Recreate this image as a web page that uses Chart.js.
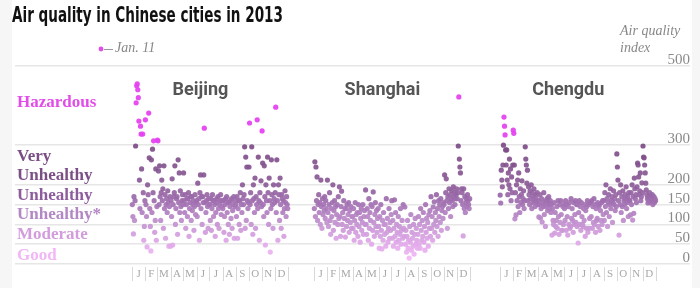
<!DOCTYPE html>
<html>
<head>
<meta charset="utf-8">
<script src="https://cdn.jsdelivr.net/npm/chart.js@4"></script>
<style>
  html, body { margin: 0; padding: 0; background: #f6f6f6; }
  #wrap { position: relative; width: 700px; height: 288px; }
  #paper { position: absolute; left: 12px; top: 0; width: 680px; height: 288px; background: #fff; }
  #chart { position: absolute; left: 0; top: 0; }
  .title { position: absolute; left: 12px; top: 3px; font: bold 20.5px "DejaVu Sans Condensed", sans-serif; color: #111;
           white-space: nowrap; transform: scaleX(0.735); transform-origin: left top; }
  .note { position: absolute; font: italic 14px "Liberation Serif", serif; color: #888; }
</style>
</head>
<body>
<div id="wrap">
  <div id="paper"></div>
  <canvas id="chart" width="700" height="288"></canvas>
  <div class="title">Air quality in Chinese cities in 2013</div>
  <div class="note" style="left:115px; top:40px;">Jan. 11</div>
  <div class="note" style="left:620px; top:23px;">Air quality</div>
  <div class="note" style="left:620px; top:40px;">index</div>
</div>
<script>
// Data, one row per month

const cities = ['Beijing', 'Shanghai', 'Chengdu'];

const beijing = [
  150, 120, 76, 170, 110, 160, 298, 407, 450, 455, 440, 420, 361, 212, 140, 348, 328, 240, 130, 328, 180, 60, 95, 160,
  364, 150, 120, 43, 200, 175, 381, 268, 140, 95, 33, 263, 130, 290, 180, 311, 160, 80, 110, 240, 60, 145,
  313, 311, 235, 150, 248, 170, 110, 180, 212, 160, 190, 90, 248, 140, 175, 65, 150, 165, 130, 185, 155, 45, 145, 170,
  45, 160, 120, 215, 48, 150, 170, 180, 248, 100, 140, 165, 170, 75, 263, 155, 230, 130, 185, 145, 110, 160, 175, 150,
  230, 160, 130, 175, 90, 150, 165, 120, 165, 180, 70, 140, 155, 170, 110, 170, 135, 150, 160, 85, 145, 175, 125, 155,
  160, 120, 204, 150, 165, 60, 180, 225, 140, 170, 100, 170, 155, 225, 343, 155, 80, 130, 160, 175, 145, 90, 165, 150,
  150, 110, 165, 85, 140, 175, 160, 120, 160, 150, 70, 130, 155, 165, 100, 170, 140, 90, 150, 160, 175, 125, 145, 160,
  140, 160, 80, 120, 150, 165, 60, 170, 130, 155, 100, 155, 75, 145, 160, 115, 165, 90, 135, 150, 170, 65, 145, 160,
  150, 120, 170, 65, 140, 160, 100, 160, 180, 85, 150, 130, 200, 165, 150, 175, 296, 90, 270, 110, 245, 160, 140, 155,
  245, 356, 150, 180, 100, 296, 160, 75, 200, 165, 130, 217, 90, 170, 150, 364, 140, 270, 160, 60, 180, 155, 210, 145,
  336, 255, 150, 120, 248, 170, 48, 200, 160, 130, 270, 180, 100, 217, 160, 30, 140, 263, 175, 150, 90, 200, 165, 155,
  180, 396, 130, 263, 160, 60, 200, 175, 110, 217, 150, 90, 175, 165, 130, 160, 70, 140, 185, 155, 120, 170, 150, 140
];

const shanghai = [
  140, 258, 120, 245, 160, 220, 110, 150, 175, 130, 155, 100, 212, 145, 90, 165, 125, 150, 135, 170, 115, 160, 140, 105,
  212, 130, 95, 150, 180, 110, 75, 140, 120, 155, 200, 85, 135, 160, 105, 145, 65, 125, 150, 100, 170, 115,
  195, 120, 70, 145, 184, 100, 130, 85, 160, 115, 140, 68, 140, 95, 150, 110, 125, 155, 80, 135, 105, 145, 90, 120,
  120, 90, 140, 60, 110, 155, 80, 125, 100, 130, 70, 150, 95, 130, 55, 115, 140, 85, 105, 150, 75, 120, 135, 100,
  187, 100, 75, 140, 120, 60, 165, 90, 130, 110, 150, 50, 145, 85, 182, 105, 70, 125, 155, 95, 135, 80, 115, 140,
  95, 40, 120, 70, 150, 85, 38, 110, 60, 130, 100, 75, 100, 45, 165, 80, 115, 55, 90, 140, 65, 105, 85, 125,
  160, 65, 110, 45, 90, 162, 70, 130, 55, 100, 80, 40, 120, 60, 95, 75, 140, 50, 85, 110, 65, 150, 90, 70,
  144, 50, 85, 30, 70, 110, 40, 60, 15, 95, 55, 125, 35, 80, 65, 45, 100, 25, 75, 115, 50, 90, 60, 40,
  75, 120, 50, 100, 40, 140, 85, 60, 110, 70, 130, 55, 95, 35, 150, 80, 115, 65, 105, 45, 125, 90, 135, 70,
  170, 90, 120, 60, 144, 100, 157, 80, 130, 110, 175, 95, 140, 70, 160, 120, 150, 105, 165, 85, 135, 145, 115, 155,
  150, 225, 130, 180, 215, 160, 90, 170, 140, 190, 155, 175, 120, 165, 185, 160, 145, 195, 170, 180, 150, 165, 175, 190,
  165, 180, 298, 422, 265, 245, 230, 160, 190, 180, 150, 71, 190, 140, 170, 130, 155, 165, 145, 175, 160, 150, 140, 165
];

const chengdu = [
  174, 154, 237, 212, 195, 250, 300, 371, 348, 326, 288, 250, 288, 212, 175, 230, 200, 265, 190, 240, 160, 220, 180, 250,
  338, 330, 250, 114, 180, 124, 200, 160, 212, 145, 230, 170, 130, 190, 155, 175, 210, 150, 165, 185, 140, 160,
  296, 265, 250, 204, 237, 160, 195, 175, 150, 185, 165, 200, 140, 180, 155, 170, 190, 160, 145, 175, 165, 155, 180, 150,
  160, 119, 150, 175, 116, 140, 165, 106, 155, 145, 180, 125, 150, 95, 160, 145, 165, 135, 155, 170, 150, 140, 160, 130,
  150, 73, 140, 110, 100, 155, 78, 130, 95, 110, 145, 90, 160, 120, 75, 150, 105, 160, 125, 85, 85, 145, 100, 150,
  140, 110, 160, 85, 150, 120, 73, 145, 100, 155, 90, 95, 165, 115, 140, 110, 80, 155, 100, 125, 160, 105, 150, 95,
  150, 53, 130, 160, 100, 145, 85, 155, 120, 100, 95, 140, 110, 150, 70, 135, 90, 145, 160, 80, 150, 90, 115, 155,
  155, 120, 160, 90, 145, 105, 165, 100, 150, 80, 140, 110, 115, 155, 95, 145, 150, 85, 135, 110, 155, 100, 160, 125,
  160, 110, 180, 145, 200, 130, 165, 95, 155, 175, 120, 150, 190, 140, 160, 170, 105, 155, 185, 150, 165, 135, 175, 145,
  278, 245, 212, 160, 73, 180, 150, 200, 130, 170, 145, 185, 110, 160, 150, 175, 165, 195, 140, 155, 170, 120, 180, 160,
  160, 124, 180, 150, 200, 111, 170, 128, 217, 190, 165, 175, 155, 195, 255, 250, 220, 175, 185, 230, 160, 170, 205, 180,
  298, 270, 268, 250, 230, 204, 187, 175, 165, 154, 170, 160, 180, 155, 170, 160, 165, 175, 150, 160, 170, 155, 165, 160
];

const months = ['J', 'F', 'M', 'A', 'M', 'J', 'J', 'A', 'S', 'O', 'N', 'D'];
const monthStarts = [0, 31, 59, 90, 120, 151, 181, 212, 243, 273, 304, 334, 365];
const yTicks = [0, 50, 100, 150, 200, 300, 500];
const levels = ['Hazardous', 'Very Unhealthy', 'Unhealthy', 'Unhealthy*', 'Moderate', 'Good'];
const levelColors = ['#e24ce8', '#7b4f85', '#8c5c9c', '#b386c4', '#d29cdd', '#f2b6f6'];

// Layout: where each city's year starts on the shared day axis
const offsets = [0, 426, 861];
const levelAt = [407, 270, 172, 124, 73, 20];

// Dot colour by value

const stops = [[0, [248, 189, 251]], [50, [226, 169, 234]], [100, [197, 148, 210]],
               [150, [164, 115, 180]], [200, [140, 91, 152]], [300, [124, 76, 134]]];

function dotColor(v) {
    if (v > 300) return 'rgba(229, 69, 240, 0.95)';
    for (let i = 1; i < stops.length; i++) {
        if (v <= stops[i][0]) {
            const [v0, c0] = stops[i - 1], [v1, c1] = stops[i];
            const t = (v - v0) / (v1 - v0);
            const c = c0.map((c, k) => Math.round(c + (c1[k] - c) * t));
            return `rgba(${c[0]}, ${c[1]}, ${c[2]}, 0.92)`;
        }
    }
    return 'rgba(124, 76, 134, 0.92)';
}

const series = [beijing, shanghai, chengdu];

const datasets = series.map((vals, c) => ({
    label: cities[c],
    data: vals.map((v, i) => ({ x: offsets[c] + (i + 0.5) * 365 / vals.length, y: v })),
    pointRadius: 2.6,
    pointHoverRadius: 2.6,
    borderWidth: 0,
    pointBackgroundColor: ctx => dotColor(ctx.raw ? ctx.raw.y : 0)
}));

// Labels, month ticks and titles

const decor = {
    id: 'decor',
    afterDraw(chart) {
        const { ctx, scales: { x, y } } = chart;
        ctx.save();

        // y tick labels
        ctx.font = '15px "Liberation Serif", serif';
        ctx.fillStyle = '#8a8a8a';
        ctx.textAlign = 'right';
        ctx.textBaseline = 'alphabetic';
        yTicks.forEach(v => ctx.fillText(String(v), 690, y.getPixelForValue(v) - 2));

        // category labels
        ctx.font = 'bold 17px "Liberation Serif", serif';
        ctx.textAlign = 'left';
        ctx.textBaseline = 'middle';
        levels.forEach((name, i) => {
            ctx.fillStyle = levelColors[i];
            const py = y.getPixelForValue(levelAt[i]);
            if (name === 'Very Unhealthy') {
                ctx.fillText('Very', 17, py);
                ctx.fillText('Unhealthy', 17, py + 19);
            } else {
                ctx.fillText(name, 17, py);
            }
        });

        // months
        ctx.textAlign = 'center';
        offsets.forEach((off, c) => {
            ctx.font = '11px "Liberation Serif", serif';
            ctx.strokeStyle = '#d8d8d8';
            ctx.lineWidth = 1;
            monthStarts.forEach(d => {
                const px = Math.round(x.getPixelForValue(off + d)) + 0.5;
                ctx.beginPath();
                ctx.moveTo(px, 267);
                ctx.lineTo(px, 281);
                ctx.stroke();
            });
            ctx.fillStyle = '#a8a8a8';
            months.forEach((m, i) => {
                const mid = (monthStarts[i] + monthStarts[i + 1]) / 2;
                ctx.fillText(m, x.getPixelForValue(off + mid), 274);
            });

            // city name
            ctx.font = 'bold 18px Roboto, sans-serif';
            ctx.fillStyle = '#555';
            ctx.fillText(cities[c], x.getPixelForValue(off + 160), 90);
        });

        // Jan. 11 key
        ctx.fillStyle = '#e24ce8';
        ctx.beginPath();
        ctx.arc(101, 49, 2.4, 0, Math.PI * 2);
        ctx.fill();
        ctx.strokeStyle = '#999';
        ctx.beginPath();
        ctx.moveTo(104, 49.5);
        ctx.lineTo(113, 49.5);
        ctx.stroke();

        ctx.restore();
    }
};

const chart = new Chart(document.getElementById('chart'), {
    type: 'scatter',
    data: { datasets },
    options: {
        responsive: false,
        animation: false,
        events: [],
        layout: { padding: { left: 15, right: 10, top: 66, bottom: 24 } },
        plugins: { legend: { display: false }, tooltip: { enabled: false } },
        scales: {
            x: { type: 'linear', min: -274, max: 1306, display: false },
            y: {
                type: 'linear',
                min: 0,
                max: 500,
                afterBuildTicks: axis => { axis.ticks = yTicks.map(v => ({ value: v })); },
                grid: { color: '#e6e6e6', lineWidth: 1.5, drawTicks: false },
                border: { display: false },
                ticks: { display: false }
            }
        }
    },
    plugins: [decor]
});
</script>
</body>
</html>
